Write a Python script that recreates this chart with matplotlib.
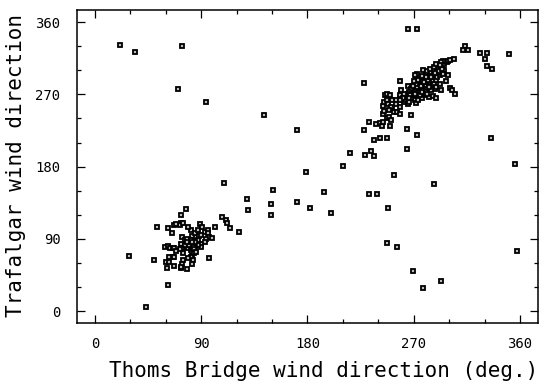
import numpy as np
import matplotlib.pyplot as plt

# Thoms Bridge (x) vs Trafalgar (y) wind direction, degrees
# isolated points
scat_x = [21, 34, 74, 70, 94, 143, 171, 265, 273, 228, 313, 312, 316, 326, 332, 330, 332, 336,
          351, 335, 356, 357, 287, 293, 278, 269, 256, 247, 248, 253, 239, 232, 273, 264, 264,
          247, 241, 236, 228, 229, 234, 236, 216, 210, 232, 179, 171, 182, 194, 200, 151, 149,
          149, 129, 130, 122, 109, 108, 111, 112, 114, 102, 97, 29, 50, 43, 62, 53]
scat_y = [331, 323, 330, 277, 260, 244, 225, 351, 351, 284, 330, 325, 325, 321, 322, 314, 305, 301,
          320, 216, 183, 75, 158, 38, 29, 50, 80, 85, 129, 170, 146, 146, 219, 202, 227,
          216, 216, 213, 226, 195, 200, 193, 197, 181, 236, 173, 136, 129, 148, 122, 151, 133,
          120, 140, 126, 99, 160, 117, 113, 110, 103, 105, 66, 69, 64, 5, 33, 105]

# easterly cluster
east_x = [77, 73, 73, 72, 75, 81, 79, 67, 69, 65, 62, 59, 62, 64, 66, 67, 74, 73, 76, 78, 77, 79,
          81, 82, 83, 84, 85, 82, 85, 87, 89, 91, 93, 96, 96, 97, 99, 94, 90, 90, 87, 85, 84, 82,
          81, 79, 83, 82, 75, 75, 74, 72, 69, 66, 63, 60, 63, 61, 67, 73, 78, 74, 73, 87, 88, 81,
          85, 76, 90, 93, 67, 83, 84, 80, 86, 78, 82]
east_y = [127, 120, 110, 107, 110, 101, 105, 107, 109, 97, 103, 80, 81, 79, 78, 79, 92, 84, 88, 90,
          80, 78, 76, 74, 84, 88, 92, 93, 97, 101, 109, 105, 99, 101, 97, 92, 91, 90, 84, 80, 82,
          78, 72, 68, 68, 66, 64, 59, 64, 72, 78, 77, 75, 68, 68, 61, 61, 54, 56, 54, 53, 59, 55,
          88, 93, 88, 86, 82, 95, 86, 68, 80, 77, 82, 74, 86, 86]

# westerly cluster
west_x = [238, 241, 243, 244, 247, 249, 250, 251, 244, 245, 244, 245, 247, 246, 247, 250, 248, 252,
          253, 256, 258, 255, 258, 259, 261, 262, 263, 265, 266, 268, 265, 258, 271, 272, 274, 277,
          280, 283, 286, 289, 293, 301, 302, 305, 299, 296, 294, 292, 290, 289, 288, 286, 284, 283,
          281, 280, 278, 277, 275, 274, 272, 271, 269, 268, 266, 265, 263, 262, 261, 259, 258, 272,
          274, 275, 277, 278, 280, 281, 283, 284, 286, 287, 289, 290, 292, 293, 295, 296, 298, 299,
          301, 304, 295, 293, 297, 288, 285, 269, 268, 272, 275, 277, 280, 281, 271, 273, 276, 279,
          282, 285, 288, 291, 294, 267, 266, 262, 261, 258, 255, 252, 251, 249, 259, 272, 274, 270,
          269, 289, 292, 283, 280, 277, 273, 271, 281, 284, 287, 289, 292, 258]
west_y = [233, 234, 231, 236, 240, 242, 230, 238, 246, 249, 255, 261, 263, 269, 270, 269, 258, 252,
          248, 248, 245, 263, 265, 267, 263, 261, 263, 258, 261, 244, 280, 287, 263, 259, 263, 265,
          269, 267, 268, 265, 276, 278, 275, 270, 294, 300, 306, 300, 302, 298, 294, 300, 298, 292,
          287, 296, 300, 287, 283, 285, 290, 281, 275, 277, 273, 271, 269, 267, 269, 271, 269, 275,
          273, 277, 279, 275, 281, 277, 283, 285, 287, 283, 288, 292, 294, 296, 295, 308, 310, 312,
          313, 314, 312, 310, 287, 277, 275, 269, 265, 269, 269, 273, 273, 271, 271, 279, 281, 285,
          288, 292, 297, 299, 302, 269, 266, 271, 266, 263, 258, 263, 254, 251, 275, 283, 288, 287,
          280, 279, 283, 279, 291, 293, 295, 294, 299, 302, 304, 308, 306, 254]

tick_major = [0, 90, 180, 270, 360]

x = np.array(scat_x + east_x + west_x)
y = np.array(scat_y + east_y + west_y)

mono = 'DejaVu Sans Mono'
fig = plt.figure(figsize=(5.51, 3.87), dpi=100)
ax = fig.add_axes([0.140, 0.165, 0.836, 0.809])

ax.plot(x, y, ls='none', marker='s', ms=3.3, mfc='#bbbbbb', mec='black', mew=1.3)

ax.set_xlim(-15, 375)
ax.set_ylim(-15, 375)
ax.set_xticks(tick_major)
ax.set_yticks(tick_major)
ax.set_xticks(np.arange(0, 361, 30), minor=True)
ax.set_yticks(np.arange(0, 361, 30), minor=True)
ax.tick_params(which='both', direction='in', top=True, right=True, width=0.9)
ax.tick_params(which='major', length=6)
ax.tick_params(which='minor', length=3)
ax.tick_params(axis='x', pad=10)
ax.tick_params(axis='y', pad=12)
for lab in ax.get_xticklabels() + ax.get_yticklabels():
    lab.set_family(mono)
    lab.set_fontsize(10)
for s in ax.spines.values():
    s.set_linewidth(1.1)

ax.set_xlabel('Thoms Bridge wind direction (deg.)', family=mono, fontsize=15)
ax.xaxis.set_label_coords(0.536, -0.12)
ax.set_ylabel('Trafalgar wind direction', family=mono, fontsize=15)
ax.yaxis.set_label_coords(-0.11, 0.505)

fig.savefig('out.png', dpi=100)
